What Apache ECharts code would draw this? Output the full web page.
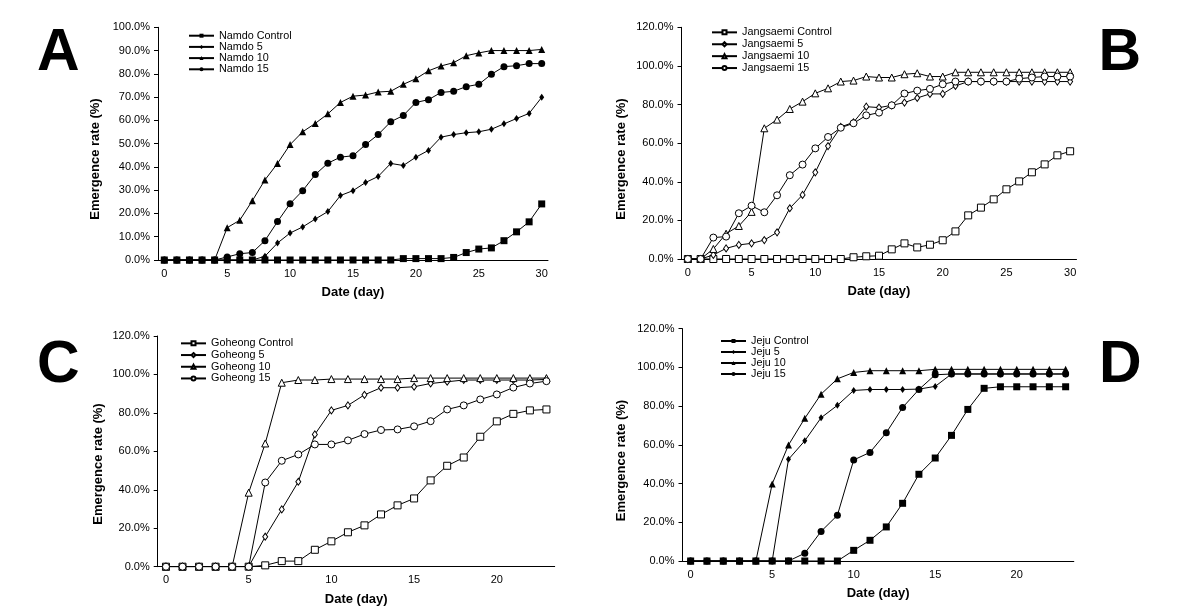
<!DOCTYPE html>
<html>
<head>
<meta charset="utf-8">
<script src="https://cdn.jsdelivr.net/npm/echarts@6/dist/echarts.min.js"></script>
<style>
html,body{margin:0;padding:0;background:#fff;}
#c{width:1179px;height:609px;}
</style>
</head>
<body>
<div id="c"></div>
<script>
// ---------- categories ----------
const daysAB = [0,1,2,3,4,5,6,7,8,9,10,11,12,13,14,15,16,17,18,19,20,21,22,23,24,25,26,27,28,29,30];
const daysCD = [0,1,2,3,4,5,6,7,8,9,10,11,12,13,14,15,16,17,18,19,20,21,22,23];

// ---------- Panel A: Namdo ----------
const namdoControl = [0,0,0,0,0,0,0,0,0,0,0,0,0,0,0,0,0,0,0,0.6,0.6,0.6,0.6,1.1,3.2,4.7,5.2,8.3,12.1,16.4,24.1];
const namdo5  = [0,0,0,0,0,0,0,0,1.6,7.3,11.6,14.2,17.6,20.8,27.7,29.8,33.3,35.9,41.5,40.6,44.2,47.1,52.8,53.9,54.7,55.1,56.2,58.5,60.8,63.0,69.9];
const namdo10 = [0,0,0,0,0,13.9,17.1,25.5,34.4,41.5,49.6,55.1,58.7,62.8,67.7,70.4,70.9,72.2,72.5,75.5,77.9,81.3,83.4,84.8,87.8,89.0,90.0,90.0,90.0,90.0,90.5];
const namdo15 = [0,0,0,0,0,1.3,2.7,3.2,8.3,16.5,24.2,29.8,36.7,41.6,44.2,44.8,49.6,53.9,59.4,62.1,67.7,68.9,72.0,72.5,74.5,75.5,79.8,83.1,83.5,84.4,84.4];

// ---------- Panel B: Jangsaemi ----------
const jangControl = [0,0,0,0,0,0,0,0,0,0,0,0,0,0.9,1.4,1.7,5.0,8.1,6.0,7.4,9.7,14.3,22.6,26.6,30.9,36.1,40.2,44.9,49.0,53.7,55.8];
const jang5  = [0,0,2.1,5.5,7.3,8.1,9.8,13.8,26.3,33.2,44.9,58.5,68.4,70.8,78.9,78.4,79.6,81.0,83.4,85.5,85.5,89.6,91.9,91.9,91.9,91.9,91.9,91.9,91.9,91.9,91.9];
const jang10 = [0,0,5.2,13.1,17.1,24.4,67.7,72.2,77.7,81.5,85.8,88.4,91.9,92.4,94.5,94.0,94.0,95.7,96.2,94.5,94.5,96.7,96.7,96.7,96.7,96.7,96.7,96.7,96.7,96.7,96.7];
const jang15 = [0,0,11.1,11.6,23.7,27.6,24.2,33.0,43.4,48.9,57.3,63.2,68.0,70.3,74.4,75.8,79.6,85.7,87.2,88.1,90.5,91.9,91.9,91.9,91.9,91.9,93.4,94.0,94.5,94.5,94.5];

// ---------- Panel C: Goheong ----------
const gohControl = [0,0,0,0,0,0,0.7,2.9,2.9,8.8,13.2,17.9,21.5,27.2,31.9,35.5,44.9,52.5,56.8,67.6,75.6,79.5,81.3,81.8];
const goh5  = [0,0,0,0,0,0,15.6,29.8,44.2,68.8,81.3,83.9,89.4,93.1,93.1,93.6,95.3,96.2,97.1,97.1,97.1,97.1,97.1,97.4];
const goh10 = [0,0,0,0,0,38.5,64.1,95.7,97.1,97.1,97.6,97.6,97.6,97.6,97.6,98.1,98.1,98.1,98.1,98.1,98.1,98.1,98.1,98.1];
const goh15 = [0,0,0,0,0,0,43.8,55.1,58.4,63.6,63.6,65.7,69.0,71.1,71.4,73.0,75.7,81.8,83.9,87.0,89.6,93.2,95.3,96.5];

// ---------- Panel D: Jeju ----------
const jejuControl = [0,0,0,0,0,0,0,0,0,0,5.5,10.7,17.6,29.8,44.8,53.2,64.9,78.3,89.2,90.0,90.0,90.0,90.0,90.0];
const jeju5  = [0,0,0,0,0,0,52.5,62.1,74.0,80.4,88.1,88.6,88.6,88.6,88.8,90.2,96.6,96.6,96.6,96.6,96.6,96.6,96.6,96.6];
const jeju10 = [0,0,0,0,0,39.8,59.9,73.7,86.2,94.1,97.4,98.3,98.3,98.3,98.3,99.0,99.0,99.0,99.0,99.0,99.0,99.0,99.0,99.0];
const jeju15 = [0,0,0,0,0,0,0,4.0,15.3,23.6,52.2,56.1,66.3,79.3,88.6,96.2,96.6,96.6,96.6,96.6,96.6,96.6,96.6,96.6];

// ---------- build ----------
const FONT = '"Liberation Sans", Arial, sans-serif';
const grids = [
  {left:158, top:27.3, width:390, height:232.7},
  {left:681.5, top:27.3, width:395, height:231.7},
  {left:157.7, top:336, width:397, height:230.7},
  {left:682.5, top:328.7, width:391.3, height:232.3}
];
const yMax = [100, 120, 120, 120];
const yInt = [10, 20, 20, 20];
const cats = [daysAB, daysAB, daysCD, daysCD];

const panels = [
  {names:['Namdo Control','Namdo 5','Namdo 10','Namdo 15'], data:[namdoControl,namdo5,namdo10,namdo15], hollow:false,
   legend:{left:188, top:30.1, lh:11.2}},
  {names:['Jangsaemi Control','Jangsaemi 5','Jangsaemi 10','Jangsaemi 15'], data:[jangControl,jang5,jang10,jang15], hollow:true,
   legend:{left:711, top:26.4, lh:11.9}},
  {names:['Goheong Control','Goheong 5','Goheong 10','Goheong 15'], data:[gohControl,goh5,goh10,goh15], hollow:true,
   legend:{left:180, top:337.5, lh:11.7}},
  {names:['Jeju Control','Jeju 5','Jeju 10','Jeju 15'], data:[jejuControl,jeju5,jeju10,jeju15], hollow:false,
   legend:{left:720, top:335.5, lh:11}}
];
const symbols = ['rect','diamond','triangle','circle'];
const symSizes = [7, [5,7], 7, 7];

const xAxes = [], yAxes = [], series = [], legends = [];
grids.forEach((g, i) => {
  xAxes.push({
    type:'category', gridIndex:i, data:cats[i], boundaryGap:true,
    axisLine:{lineStyle:{color:'#000', width:1}},
    axisTick:{show:false},
    axisLabel:{interval:4, color:'#000', fontSize:11, fontFamily:FONT, margin:8},
    name:'Date (day)', nameLocation:'middle', nameGap:26,
    nameTextStyle:{color:'#000', fontSize:13, fontWeight:'bold', fontFamily:FONT}
  });
  yAxes.push({
    type:'value', gridIndex:i, min:0, max:yMax[i], interval:yInt[i],
    axisLine:{show:true, lineStyle:{color:'#000', width:1}},
    axisTick:{show:true, length:4, lineStyle:{color:'#000'}},
    splitLine:{show:false},
    axisLabel:{color:'#000', fontSize:11, fontFamily:FONT, margin:8,
      formatter: v => v.toFixed(1) + '%'}
  });
});

panels.forEach((p, i) => {
  p.names.forEach((n, k) => {
    series.push({
      name:n, type:'line', xAxisIndex:i, yAxisIndex:i, data:p.data[k],
      symbol:symbols[k], symbolSize:symSizes[k], showAllSymbol:true,
      lineStyle:{color:'#000', width:1},
      itemStyle: p.hollow ? {color:'#fff', borderColor:'#000', borderWidth:1}
                          : {color:'#000', borderColor:'#000', borderWidth:0},
      emphasis:{disabled:true}, animation:false, z: 2 + k
    });
  });
  legends.push({
    orient:'vertical', left:p.legend.left, top:p.legend.top, padding:0,
    itemGap:0, itemWidth:25, itemHeight:5,
    data:p.names,
    textStyle:{color:'#000', fontSize:10.8, fontFamily:FONT, lineHeight:p.legend.lh, height:p.legend.lh},
    selectedMode:false
  });
});

const ytitle = (x, y) => ({type:'text', x:x, y:y, rotation:Math.PI/2,
  style:{text:'Emergence rate (%)', fill:'#000', font:'bold 13px ' + FONT, textAlign:'center', textVerticalAlign:'middle'}});

const chart = echarts.init(document.getElementById('c'), null, {renderer:'canvas'});
chart.setOption({
  animation:false,
  backgroundColor:'#fff',
  textStyle:{fontFamily:FONT},
  grid:grids,
  xAxis:xAxes,
  yAxis:yAxes,
  legend:legends,
  series:series,
  graphic:[
    {type:'text', style:{text:'A', x:37, y:54, fill:'#000', font:'bold 59px ' + FONT, textAlign:'left', textVerticalAlign:'middle'}},
    {type:'text', style:{text:'B', x:1098.5, y:54, fill:'#000', font:'bold 59px ' + FONT, textAlign:'left', textVerticalAlign:'middle'}},
    {type:'text', style:{text:'C', x:37, y:366, fill:'#000', font:'bold 59px ' + FONT, textAlign:'left', textVerticalAlign:'middle'}},
    {type:'text', style:{text:'D', x:1099, y:366, fill:'#000', font:'bold 59px ' + FONT, textAlign:'left', textVerticalAlign:'middle'}},
    ytitle(95.7, 159), ytitle(621.7, 159), ytitle(98.3, 464), ytitle(621.7, 460.5)
  ]
});
</script>
</body>
</html>
